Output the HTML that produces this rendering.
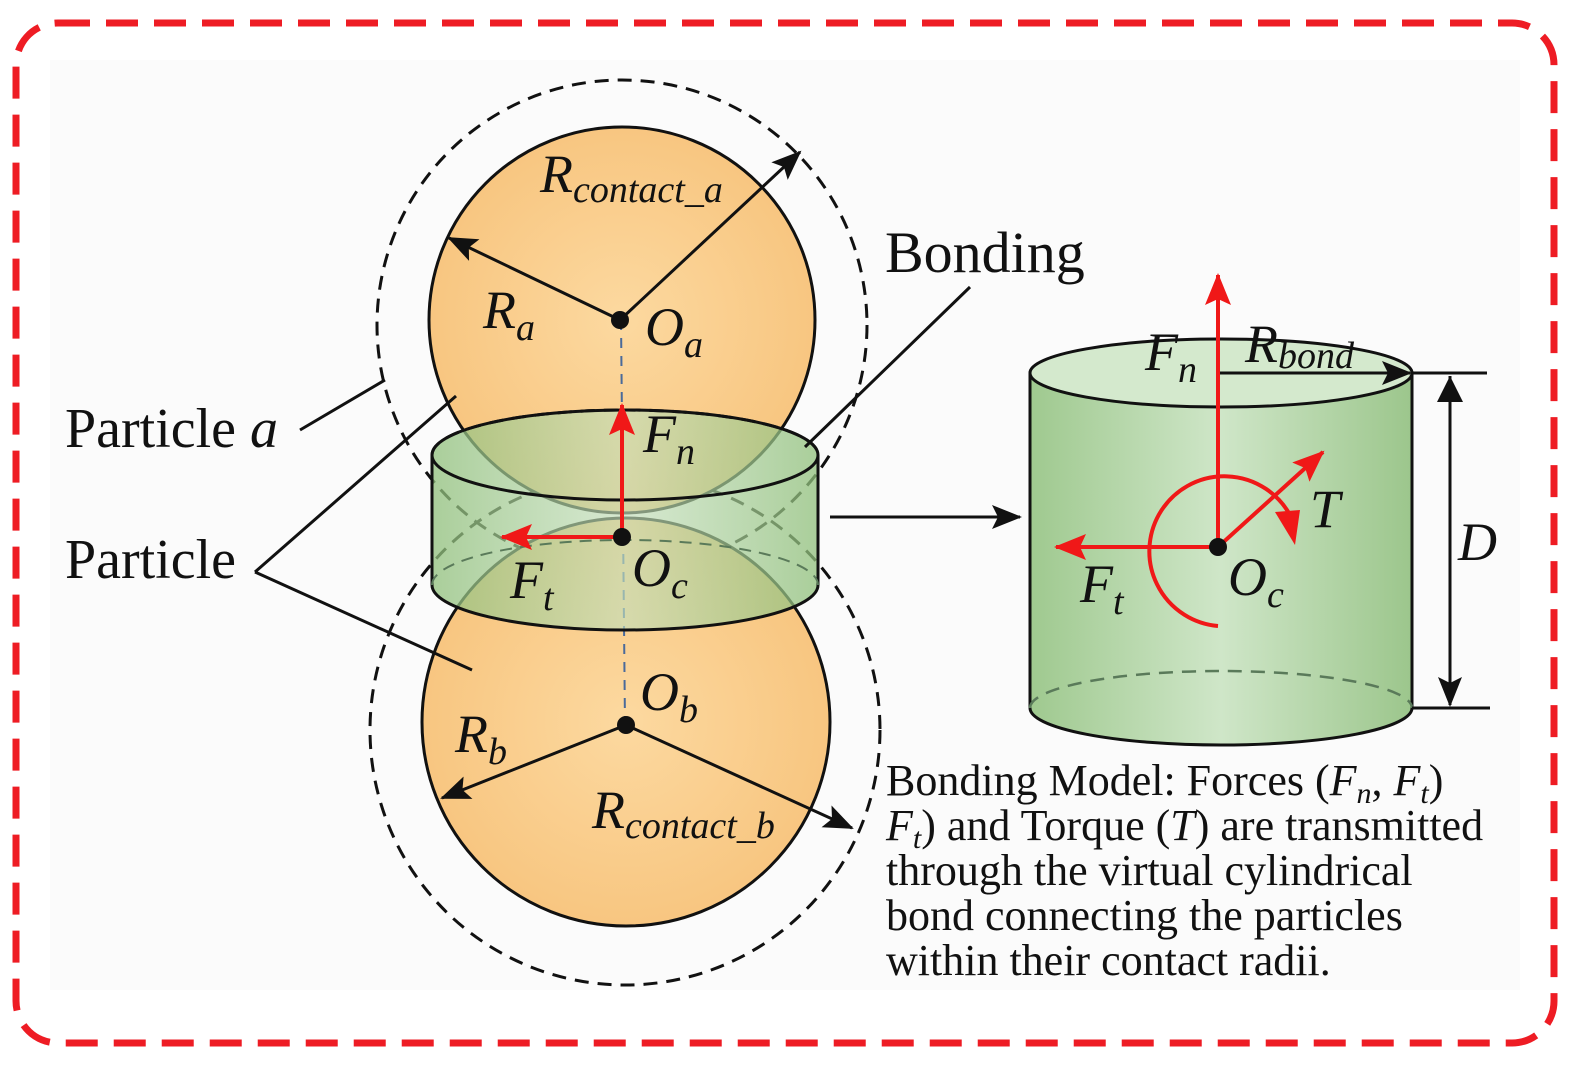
<!DOCTYPE html>
<html><head><meta charset="utf-8"><style>
html,body{margin:0;padding:0;background:#fff;}
svg{display:block;}
text{font-family:"Liberation Serif",serif;fill:#111;}
.i{font-style:italic;}
</style></head><body>
<svg width="1574" height="1065" viewBox="0 0 1574 1065" xmlns="http://www.w3.org/2000/svg">
<defs>
<marker id="akb" markerWidth="30" markerHeight="24" refX="28" refY="12" orient="auto" markerUnits="userSpaceOnUse"><path d="M0,0 L30,12 L0,24 L6,12 z" fill="#111"/></marker>
<marker id="ar" markerWidth="32" markerHeight="26" refX="30" refY="13" orient="auto" markerUnits="userSpaceOnUse"><path d="M0,0 L32,13 L0,26 L6,13 z" fill="#f01818"/></marker>
<linearGradient id="gc" x1="0" x2="1" y1="0" y2="0">
<stop offset="0" stop-color="#9fc98f"/><stop offset="0.5" stop-color="#cfe6c8"/><stop offset="1" stop-color="#9cc68c"/></linearGradient>
<linearGradient id="gb" x1="0" x2="1" y1="0" y2="0">
<stop offset="0" stop-color="#8fbf7a" stop-opacity="0.75"/><stop offset="0.5" stop-color="#c3dfba" stop-opacity="0.65"/><stop offset="1" stop-color="#8fbf7a" stop-opacity="0.75"/></linearGradient>
<radialGradient id="go" cx="0.5" cy="0.5" r="0.6"><stop offset="0" stop-color="#fcd9a0"/><stop offset="1" stop-color="#f7c27a"/></radialGradient>
</defs>
<rect x="0" y="0" width="1574" height="1065" fill="#fff"/>
<rect x="50" y="60" width="1470" height="930" fill="#fbfbfb"/>
<rect x="16" y="23" width="1538" height="1020" rx="42" fill="none" stroke="#ee1c24" stroke-width="7" stroke-dasharray="32 16"/>

<circle cx="622" cy="325" r="245" fill="none" stroke="#111" stroke-width="3" stroke-dasharray="14 9"/>
<circle cx="625" cy="730" r="255" fill="none" stroke="#111" stroke-width="3" stroke-dasharray="14 9"/>
<circle cx="622" cy="320" r="193" fill="url(#go)" stroke="#111" stroke-width="3"/>
<circle cx="626" cy="722" r="204" fill="url(#go)" stroke="#111" stroke-width="3"/>
<line x1="621" y1="320" x2="625" y2="725" stroke="#4a6a9a" stroke-width="2" stroke-dasharray="10 8"/>

<path d="M432,455 L432,585 A193,45 0 0 0 818,585 L818,455 A193,45 0 0 0 432,455 z" fill="url(#gb)" stroke="#111" stroke-width="3"/>
<path d="M432,455 A193,45 0 0 0 818,455" fill="none" stroke="#111" stroke-width="3"/>
<path d="M432,455 A193,45 0 0 1 818,455" fill="none" stroke="#111" stroke-width="3" stroke-dasharray="14 9"/>
<path d="M432,585 A193,45 0 0 1 818,585" fill="none" stroke="#5a7a5a" stroke-width="2" stroke-dasharray="12 8"/>

<line x1="620" y1="320" x2="449" y2="238" stroke="#111" stroke-width="3" marker-end="url(#akb)"/>
<line x1="620" y1="320" x2="800" y2="152" stroke="#111" stroke-width="3" marker-end="url(#akb)"/>
<line x1="626" y1="725" x2="442" y2="798" stroke="#111" stroke-width="3" marker-end="url(#akb)"/>
<line x1="626" y1="725" x2="852" y2="828" stroke="#111" stroke-width="3" marker-end="url(#akb)"/>
<circle cx="620" cy="320" r="9" fill="#111"/>
<circle cx="626" cy="725" r="9" fill="#111"/>

<line x1="622" y1="537" x2="622" y2="405" stroke="#f01818" stroke-width="4" marker-end="url(#ar)"/>
<line x1="622" y1="537" x2="502" y2="537" stroke="#f01818" stroke-width="4" marker-end="url(#ar)"/>
<circle cx="622" cy="537" r="9" fill="#111"/>

<polyline points="300,430 385,380" fill="none" stroke="#111" stroke-width="3"/>
<line x1="255" y1="572" x2="456" y2="396" stroke="#111" stroke-width="3"/>
<line x1="255" y1="572" x2="472" y2="670" stroke="#111" stroke-width="3"/>
<line x1="970" y1="287" x2="805" y2="447" stroke="#111" stroke-width="3"/>
<line x1="830" y1="517" x2="1020" y2="517" stroke="#111" stroke-width="3" marker-end="url(#akb)"/>

<path d="M1030,373 L1030,708 A191,37 0 0 0 1412,708 L1412,373 A191,33 0 0 0 1030,373 z" fill="url(#gc)" stroke="#111" stroke-width="3"/>
<ellipse cx="1221" cy="373" rx="191" ry="34" fill="#d4e9cd" stroke="#111" stroke-width="3"/>
<path d="M1030,708 A191,37 0 0 1 1412,708" fill="none" stroke="#5a7a5a" stroke-width="2.5" stroke-dasharray="14 9"/>
<line x1="1412" y1="373" x2="1487" y2="373" stroke="#111" stroke-width="3"/>
<line x1="1412" y1="708" x2="1490" y2="708" stroke="#111" stroke-width="3"/>
<line x1="1450" y1="376" x2="1450" y2="705" stroke="#111" stroke-width="3" marker-end="url(#akb)"/>
<path d="M1450,376 L1437,402 L1463,402 z" fill="#111"/>
<line x1="1218" y1="373" x2="1410" y2="373" stroke="#111" stroke-width="3" marker-end="url(#akb)"/>
<path d="M1218,626 A75,75 0 1 1 1290,515" fill="none" stroke="#f01818" stroke-width="4"/>
<path d="M1275,512 L1300,510 L1295,545 z" fill="#f01818"/>
<line x1="1218" y1="547" x2="1218" y2="275" stroke="#f01818" stroke-width="4" marker-end="url(#ar)"/>
<line x1="1218" y1="547" x2="1056" y2="547" stroke="#f01818" stroke-width="4" marker-end="url(#ar)"/>
<line x1="1218" y1="547" x2="1323" y2="452" stroke="#f01818" stroke-width="4" marker-end="url(#ar)"/>
<circle cx="1218" cy="547" r="9" fill="#111"/>

<text x="540" y="192" font-size="54" class="i">R<tspan font-size="38" dy="10">contact_a</tspan></text>
<text x="483" y="328" font-size="54" class="i">R<tspan font-size="38" dy="12">a</tspan></text>
<text x="645" y="345" font-size="54" class="i">O<tspan font-size="38" dy="12">a</tspan></text>
<text x="885" y="272" font-size="58">Bonding</text>
<text x="65" y="447" font-size="56">Particle <tspan class="i">a</tspan></text>
<text x="65" y="578" font-size="56">Particle</text>
<text x="643" y="452" font-size="54" class="i">F<tspan font-size="38" dy="12">n</tspan></text>
<text x="510" y="598" font-size="54" class="i">F<tspan font-size="38" dy="12">t</tspan></text>
<text x="632" y="586" font-size="54" class="i">O<tspan font-size="38" dy="12">c</tspan></text>
<text x="640" y="710" font-size="54" class="i">O<tspan font-size="38" dy="12">b</tspan></text>
<text x="455" y="752" font-size="54" class="i">R<tspan font-size="38" dy="12">b</tspan></text>
<text x="592" y="828" font-size="54" class="i">R<tspan font-size="38" dy="10">contact_b</tspan></text>

<text x="1145" y="370" font-size="54" class="i">F<tspan font-size="38" dy="12">n</tspan></text>
<text x="1245" y="362" font-size="54" class="i">R<tspan font-size="38" dy="6">bond</tspan></text>
<text x="1310" y="527" font-size="54" class="i">T</text>
<text x="1458" y="560" font-size="54" class="i">D</text>
<text x="1080" y="602" font-size="54" class="i">F<tspan font-size="38" dy="12">t</tspan></text>
<text x="1228" y="595" font-size="54" class="i">O<tspan font-size="38" dy="12">c</tspan></text>

<g font-size="44">
<text x="886" y="795">Bonding Model: Forces (<tspan class="i">F<tspan font-size="30" dy="8">n</tspan></tspan><tspan dy="-8">, </tspan><tspan class="i">F<tspan font-size="30" dy="8">t</tspan></tspan><tspan dy="-8">)</tspan></text>
<text x="886" y="840"><tspan class="i">F<tspan font-size="30" dy="8">t</tspan></tspan><tspan dy="-8">) and Torque (</tspan><tspan class="i">T</tspan>) are transmitted</text>
<text x="886" y="885">through the virtual cylindrical</text>
<text x="886" y="930">bond connecting the particles</text>
<text x="886" y="975">within their contact radii.</text>
</g>
</svg>
</body></html>
